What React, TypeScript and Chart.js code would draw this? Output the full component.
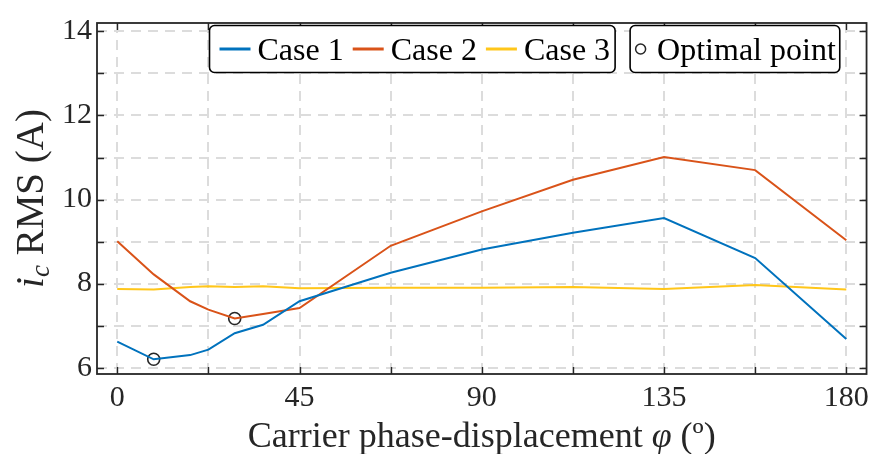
import React, { useEffect, useRef } from "react";
import { Chart, registerables } from "chart.js";
Chart.register(...registerables);

// ---- data ----
const phi = [0, 9, 18, 22.5, 29, 36, 45, 67.5, 90, 112.5, 135, 157.5, 180];
const case1 = [6.62, 6.2, 6.3, 6.43, 6.82, 7.02, 7.58, 8.26, 8.81, 9.21, 9.56, 8.61, 6.68];
const case2 = [9.01, 8.22, 7.58, 7.38, 7.17, 7.28, 7.42, 8.9, 9.72, 10.47, 11.01, 10.7, 9.03];
const case3 = [7.87, 7.86, 7.92, 7.94, 7.92, 7.94, 7.89, 7.9, 7.9, 7.92, 7.87, 7.97, 7.86];
const optimalPhi = [9, 29];
const optimalRms = [6.2, 7.17];
const seriesNames = ["Case 1", "Case 2", "Case 3"];
const optimalName = "Optimal point";
const xTicks = [0, 22.5, 45, 67.5, 90, 112.5, 135, 157.5, 180];
const xTickLabels = ["0", "", "45", "", "90", "", "135", "", "180"];
const yTicks = [6, 7, 8, 9, 10, 11, 12, 13, 14];
const yTickLabels = ["6", "", "8", "", "10", "", "12", "", "14"];
const xTitle = ["Carrier phase-displacement ", "φ", " (º)"];
const yTitle = ["i", "c", " RMS (A)"];

const colors = ["#0072BD", "#D95319", "#FFC61A"];
const AX = "#262626";
const FONT = "'Liberation Serif', 'Times New Roman', serif";

const decorPlugin = {
  id: "decor",
  afterDraw(chart: any) {
    const ctx = chart.ctx as CanvasRenderingContext2D;
    const { left, right, top, bottom } = chart.chartArea;
    const xs = chart.scales.x;
    const ys = chart.scales.y;
    ctx.save();
    // frame
    ctx.strokeStyle = AX;
    ctx.lineWidth = 1.8;
    ctx.strokeRect(left, top, right - left, bottom - top);
    // ticks
    const tl = 7;
    ctx.lineWidth = 1.4;
    ctx.beginPath();
    yTicks.forEach((v) => {
      const p = Math.round(ys.getPixelForValue(v)) + 0.5;
      ctx.moveTo(left, p);
      ctx.lineTo(left + tl, p);
      ctx.moveTo(right, p);
      ctx.lineTo(right - tl, p);
    });
    xTicks.forEach((v) => {
      const p = Math.round(xs.getPixelForValue(v)) + 0.5;
      ctx.moveTo(p, bottom);
      ctx.lineTo(p, bottom - tl);
      ctx.moveTo(p, top);
      ctx.lineTo(p, top + tl);
    });
    ctx.stroke();

    // x title
    ctx.fillStyle = AX;
    ctx.textBaseline = "alphabetic";
    ctx.textAlign = "left";
    const xf = [`36px ${FONT}`, `italic 36px ${FONT}`, `36px ${FONT}`];
    let w = 0;
    const ws = xTitle.map((t, i) => {
      ctx.font = xf[i];
      const m = ctx.measureText(t).width;
      w += m;
      return m;
    });
    let cx = (left + right) / 2 - w / 2;
    xTitle.forEach((t, i) => {
      ctx.font = xf[i];
      ctx.fillText(t, cx, 447);
      cx += ws[i];
    });

    // y title (rotated)
    ctx.save();
    ctx.translate(43, (top + bottom) / 2);
    ctx.rotate(-Math.PI / 2);
    const yf = [`italic 39px ${FONT}`, `italic 27px ${FONT}`, `39px ${FONT}`];
    const yOff = [0, 6, 0];
    let yw = 0;
    const yws = yTitle.map((t, i) => {
      ctx.font = yf[i];
      const m = ctx.measureText(t).width;
      yw += m;
      return m;
    });
    let yx = -yw / 2;
    yTitle.forEach((t, i) => {
      ctx.font = yf[i];
      ctx.fillText(t, yx, yOff[i]);
      yx += yws[i];
    });
    ctx.restore();

    // legend
    const lf = `32px ${FONT}`;
    ctx.font = lf;
    const boxTop = 25.5;
    const boxBot = 72.5;
    const midY = 49;
    const base = 60;
    const drawBox = (x0: number, x1: number) => {
      ctx.beginPath();
      ctx.roundRect(x0, boxTop, x1 - x0, boxBot - boxTop, 5);
      ctx.fillStyle = "#ffffff";
      ctx.fill();
      ctx.lineWidth = 1.6;
      ctx.strokeStyle = "#000";
      ctx.stroke();
    };
    const b1Left = 209.5;
    let x = b1Left + 10;
    const items: { lx: number; tx: number }[] = [];
    seriesNames.forEach((n) => {
      const lx = x;
      x += 31 + 7;
      const tx = x;
      x += ctx.measureText(n).width + 9;
      items.push({ lx, tx });
    });
    const b1Right = x - 9 + 5;
    drawBox(b1Left, b1Right);
    seriesNames.forEach((n, i) => {
      ctx.strokeStyle = colors[i];
      ctx.lineWidth = 3;
      ctx.beginPath();
      ctx.moveTo(items[i].lx, midY);
      ctx.lineTo(items[i].lx + 31, midY);
      ctx.stroke();
      ctx.fillStyle = "#000";
      ctx.font = lf;
      ctx.fillText(n, items[i].tx, base);
    });
    const b2Left = b1Right + 15;
    const tw = ctx.measureText(optimalName).width;
    const b2Right = b2Left + 27 + tw + 4;
    drawBox(b2Left, b2Right);
    ctx.beginPath();
    ctx.arc(b2Left + 10.5, midY, 5, 0, Math.PI * 2);
    ctx.lineWidth = 1.5;
    ctx.strokeStyle = AX;
    ctx.stroke();
    ctx.fillStyle = "#000";
    ctx.fillText(optimalName, b2Left + 27, base);
    ctx.restore();
  },
};

export default function App() {
  const ref = useRef<HTMLCanvasElement>(null);
  useEffect(() => {
    if (!ref.current) return;
    Chart.defaults.font.family = FONT;
    const mk = (ys: number[]) => phi.map((p, i) => ({ x: p, y: ys[i] }));
    const chart = new Chart(ref.current, {
      type: "line",
      data: {
        datasets: [
          ...[case1, case2, case3].map((d, i) => ({
            label: seriesNames[i],
            data: mk(d),
            borderColor: colors[i],
            backgroundColor: colors[i],
            borderWidth: 2,
            pointRadius: 0,
            tension: 0,
          })),
          {
            label: optimalName,
            data: optimalPhi.map((p, i) => ({ x: p, y: optimalRms[i] })),
            showLine: false,
            pointRadius: 6,
            pointStyle: "circle",
            borderColor: AX,
            backgroundColor: "rgba(0,0,0,0)",
            pointBorderWidth: 1.6,
          } as any,
        ],
      },
      options: {
        animation: false,
        responsive: false,
        layout: { padding: { top: 16, right: 7, left: 0, bottom: 0 } },
        plugins: { legend: { display: false }, tooltip: { enabled: false } },
        scales: {
          x: {
            type: "linear",
            min: -5,
            max: 185,
            afterBuildTicks: (s: any) => {
              s.ticks = xTicks.map((v) => ({ value: v }));
            },
            afterFit: (s: any) => {
              s.height = 80;
            },
            ticks: {
              autoSkip: false,
              maxRotation: 0,
              padding: 6,
              color: AX,
              font: { size: 30, family: FONT },
              callback: (v: any) => {
                const i = xTicks.indexOf(Number(v));
                return i >= 0 ? xTickLabels[i] : "";
              },
            },
            grid: { color: "#dcdcdc", lineWidth: 2, drawTicks: false },
            border: { display: false, dash: [10, 7] },
          },
          y: {
            type: "linear",
            min: 5.85,
            max: 14.2,
            afterBuildTicks: (s: any) => {
              s.ticks = yTicks.map((v) => ({ value: v }));
            },
            afterFit: (s: any) => {
              s.width = 97;
            },
            ticks: {
              autoSkip: false,
              padding: 5,
              color: AX,
              font: { size: 30, family: FONT },
              callback: (v: any) => {
                const i = yTicks.indexOf(Number(v));
                return i >= 0 ? yTickLabels[i] : "";
              },
            },
            grid: { color: "#dcdcdc", lineWidth: 2, drawTicks: false },
            border: { display: false, dash: [10, 7] },
          },
        },
      },
      plugins: [decorPlugin],
    });
    return () => chart.destroy();
  }, []);
  return (
    <div style={{ position: "absolute", left: 0, top: 0, width: 875, height: 454, background: "#fff" }}>
      <canvas ref={ref} width={875} height={454} style={{ display: "block" }} />
    </div>
  );
}
